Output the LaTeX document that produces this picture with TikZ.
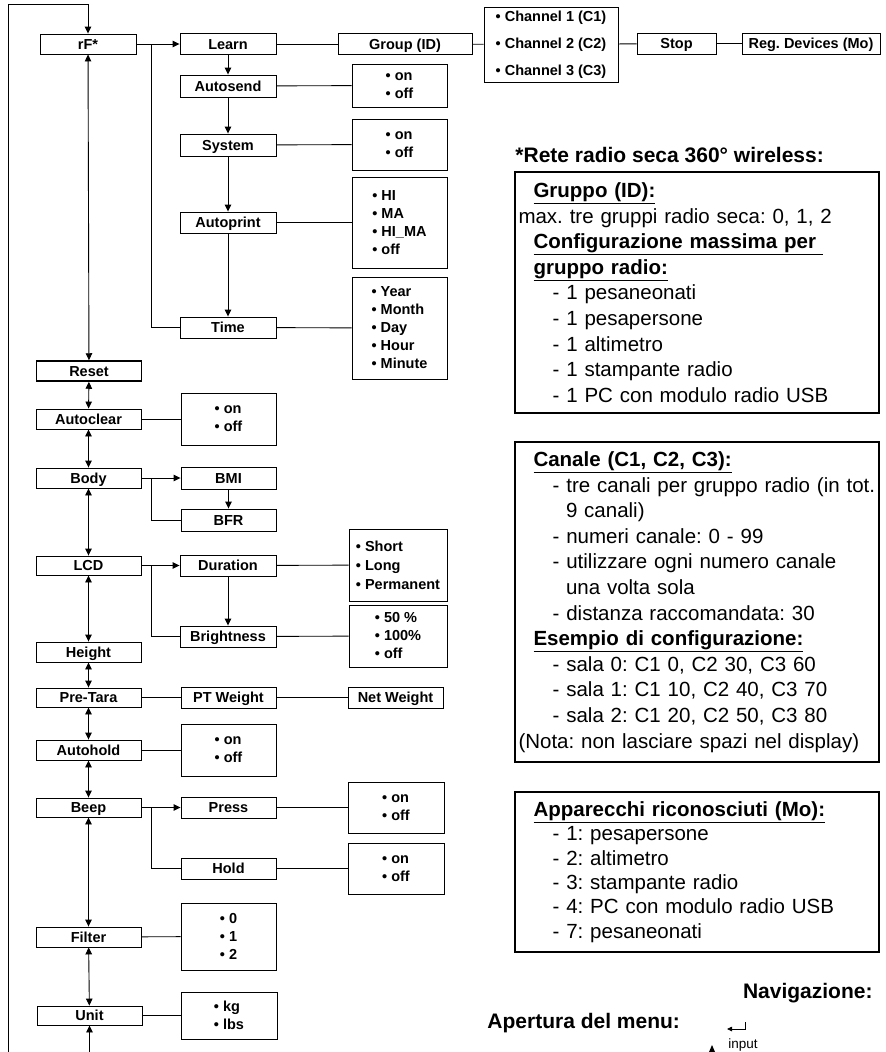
\documentclass[tikz,border=0pt]{standalone}
\usepackage{fontspec}
\setmainfont{Liberation Sans}
\usetikzlibrary{arrows.meta}
\frenchspacing

\newcommand{\itm}[1]{\hspace*{34pt}-\hspace*{7pt}#1}
\newcommand{\hd}[1]{\hspace*{15pt}\underline{\textbf{#1}}}

\begin{document}
\begin{tikzpicture}[x=1pt, y=-1pt, >={Triangle[length=7pt, width=6.5pt]}, line width=0.9pt,
    menu/.style={draw, minimum width=96, minimum height=21, inner sep=0pt,
      text height=10.4pt, text depth=0pt, font=\bfseries\fontsize{14.5}{17}\selectfont},
    side/.style={menu, minimum width=105, minimum height=20},
    opts/.style={draw, align=left, inner sep=0pt, font=\bfseries\fontsize{14.5}{18}\selectfont},
    info/.style={draw, line width=1.6pt, text width=357, inner xsep=3.5pt, inner ysep=0pt,
      align=left, font=\fontsize{20.5}{25.6}\selectfont},
    head/.style={inner sep=0pt, font=\bfseries\fontsize{21}{24}\selectfont}]
    \useasboundingbox (0,0) rectangle (886,1052);

    % Nodes: radio menu
    \node[menu, minimum width=96, minimum height=20] (rf) at (88,44) {rF*};
    \node[menu] (learn) at (228,44) {Learn};
    \node[menu, minimum width=134] (group) at (405,44) {Group (ID)};
    \node[opts, minimum width=134, minimum height=75, font=\bfseries\fontsize{14.5}{27}\selectfont]
      (chan) at (551,44.5) {\textbullet{} Channel 1 (C1)\\\textbullet{} Channel 2 (C2)\\\textbullet{} Channel 3 (C3)};
    \node[menu, minimum width=79] (stop) at (676.5,43.5) {Stop};
    \node[menu, minimum width=138] (regdev) at (811,43.5) {Reg. Devices (Mo)};
    \node[menu, minimum height=22] (autosend) at (228,86) {Autosend};
    \node[opts, minimum width=95, minimum height=43] (autosendopt) at (399.5,85.5) {\textbullet{} on\\\textbullet{} off};
    \node[menu, minimum height=22] (system) at (228,145) {System};
    \node[opts, minimum width=95, minimum height=51] (systemopt) at (399.5,144.5) {\textbullet{} on\\\textbullet{} off};
    \node[menu] (autoprint) at (228,222.5) {Autoprint};
    \node[opts, minimum width=95, minimum height=91] (autoprintopt) at (399.5,222.5)
      {\textbullet{} HI\\\textbullet{} MA\\\textbullet{} HI\_MA\\\textbullet{} off};
    \node[menu] (time) at (228,327.5) {Time};
    \node[opts, minimum width=95, minimum height=102] (timeopt) at (399.5,328)
      {\textbullet{} Year\\\textbullet{} Month\\\textbullet{} Day\\\textbullet{} Hour\\\textbullet{} Minute};

    % Nodes: main menu
    \node[side, line width=1.5pt] (reset) at (89,371) {Reset};
    \node[side] (autoclear) at (88.5,419) {Autoclear};
    \node[opts, minimum width=95, minimum height=52] (autoclearopt) at (228.5,419) {\textbullet{} on\\\textbullet{} off};
    \node[side] (body) at (88.5,478) {Body};
    \node[menu, minimum width=95, minimum height=22] (bmi) at (228.5,478) {BMI};
    \node[menu, minimum width=95, minimum height=22] (bfr) at (228.5,520) {BFR};
    \node[side, minimum height=19] (lcd) at (88.5,565.5) {LCD};
    \node[menu] (duration) at (228,565.5) {Duration};
    \node[opts, minimum width=98, minimum height=72, font=\bfseries\fontsize{14.5}{19}\selectfont]
      (durationopt) at (398,565) {\textbullet{} Short\\\textbullet{} Long\\\textbullet{} Permanent};
    \node[menu] (brightness) at (228,636.5) {Brightness};
    \node[opts, minimum width=98, minimum height=62] (brightnessopt) at (398,636)
      {\textbullet{} 50 \%\\\textbullet{} 100\%\\\textbullet{} off};
    \node[side] (height) at (88.5,652) {Height};
    \node[side, minimum height=19] (pretara) at (88.5,697.5) {Pre-Tara};
    \node[menu, minimum width=95] (ptweight) at (228.5,697.5) {PT Weight};
    \node[menu, minimum width=95] (netweight) at (395.5,697.5) {Net Weight};
    \node[side] (autohold) at (88.5,750) {Autohold};
    \node[opts, minimum width=95, minimum height=52] (autoholdopt) at (228.5,750) {\textbullet{} on\\\textbullet{} off};
    \node[side, minimum height=19] (beep) at (88.5,807.5) {Beep};
    \node[menu, minimum width=95] (press) at (228.5,807.5) {Press};
    \node[opts, minimum width=96, minimum height=51] (pressopt) at (396,807.5) {\textbullet{} on\\\textbullet{} off};
    \node[menu, minimum width=95] (hold) at (228.5,868.5) {Hold};
    \node[opts, minimum width=96, minimum height=51] (holdopt) at (396,868.5) {\textbullet{} on\\\textbullet{} off};
    \node[side] (filter) at (88.5,937) {Filter};
    \node[opts, minimum width=95, minimum height=67] (filteropt) at (228.5,936.5)
      {\textbullet{} 0\\\textbullet{} 1\\\textbullet{} 2};
    \node[side, minimum height=19] (unit) at (89.5,1015.5) {Unit};
    \node[opts, minimum width=96, minimum height=47] (unitopt) at (229,1015.5) {\textbullet{} kg\\\textbullet{} lbs};

    % Coordinates
    \coordinate (loopbot) at (8,1052);
    \coordinate (looptop) at (88,4);
    \coordinate (unitbot) at (89.5,1052);
    \coordinate (rfbr) at (151,44);
    \coordinate (bodybr) at (151,478);
    \coordinate (lcdbr) at (151,565.5);
    \coordinate (beepbr) at (151,807.5);

    % Edges: radio menu
    \draw[->] (loopbot) |- (looptop) -- (rf.north);
    \draw[->] (rf) -- (learn);
    \draw (rfbr) |- (time);
    \draw (learn) -- (group);
    \draw (group) -- (chan);
    \draw (chan) -- (stop);
    \draw (stop) -- (regdev);
    \draw[->] (learn) -- (autosend);
    \draw[->] (autosend) -- (system);
    \draw[->] (system) -- (autoprint);
    \draw[->] (autoprint) -- (time);
    \draw (autosend) -- (autosendopt);
    \draw (system) -- (systemopt);
    \draw (autoprint) -- (autoprintopt);
    \draw (time) -- (timeopt);

    % Edges: main menu
    \draw[<->] (rf) -- (reset);
    \foreach \a/\b in {reset/autoclear, autoclear/body, body/lcd, lcd/height, height/pretara,
        pretara/autohold, autohold/beep, beep/filter, filter/unit}
      \draw[<->] (\a) -- (\b);
    \draw[->] (unitbot) -- (unit);
    \draw (autoclear) -- (autoclearopt);
    \draw[->] (body) -- (bmi);
    \draw[->] (bmi) -- (bfr);
    \draw (bodybr) |- (bfr);
    \draw[->] (lcd) -- (duration);
    \draw[->] (duration) -- (brightness);
    \draw (lcdbr) |- (brightness);
    \draw (duration) -- (durationopt);
    \draw (brightness) -- (brightnessopt);
    \draw (pretara) -- (ptweight);
    \draw (ptweight) -- (netweight);
    \draw (autohold) -- (autoholdopt);
    \draw[->] (beep) -- (press);
    \draw (beepbr) |- (hold);
    \draw (press) -- (pressopt);
    \draw (hold) -- (holdopt);
    \draw (filter) -- (filteropt);
    \draw (unit) -- (unitopt);

    % Notes
    \node[head, anchor=west] (ttl) at (515,155) {*Rete radio seca 360° wireless:};
    \node[info, minimum height=241] (gruppo) at (697,292.5) {%
      \hd{Gruppo (ID):}\\
      max. tre gruppi radio seca: 0, 1, 2\\
      \hd{Configurazione massima per\ }\\
      \hd{gruppo radio:}\\
      \itm{1 pesaneonati}\\
      \itm{1 pesapersone}\\
      \itm{1 altimetro}\\
      \itm{1 stampante radio}\\
      \itm{1 PC con modulo radio USB}};
    \node[info, minimum height=320] (canale) at (697,602) {%
      \hd{Canale (C1, C2, C3):}\\
      \itm{tre canali per gruppo radio (in tot.}\\
      \hspace*{47.5pt}9 canali)\\
      \itm{numeri canale: 0 - 99}\\
      \itm{utilizzare ogni numero canale}\\
      \hspace*{47.5pt}una volta sola\\
      \itm{distanza raccomandata: 30}\\
      \hd{Esempio di configurazione:}\\
      \itm{sala 0: C1 0, C2 30, C3 60}\\
      \itm{sala 1: C1 10, C2 40, C3 70}\\
      \itm{sala 2: C1 20, C2 50, C3 80}\\
      (Nota: non lasciare spazi nel display)};
    \node[info, minimum height=160, font=\fontsize{20.5}{24.4}\selectfont] (mo) at (697,872) {%
      \hd{Apparecchi riconosciuti (Mo):}\\
      \itm{1: pesapersone}\\
      \itm{2: altimetro}\\
      \itm{3: stampante radio}\\
      \itm{4: PC con modulo radio USB}\\
      \itm{7: pesaneonati}};

    % Navigation
    \node[head, anchor=east] (nav) at (873,993) {Navigazione:};
    \node[head, anchor=west] (apri) at (487,1023) {Apertura del menu:};
    \node[inner sep=0pt, font=\fontsize{13.5}{15}\selectfont] (input) at (743,1045) {input};
    \draw[-{Triangle[length=5pt, width=4.5pt]}, line width=0.8pt] (745,1022) -- (745,1029) -- (727,1029);
    \fill (709,1052) -- (712,1045) -- (715,1052) -- cycle;
\end{tikzpicture}
\end{document}
